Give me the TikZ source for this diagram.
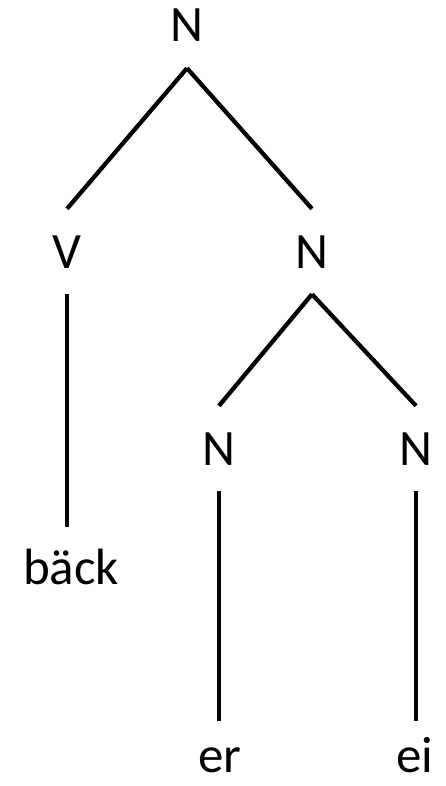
\documentclass[tikz,border=0pt]{standalone}
\usepackage{fontspec}
\setmainfont{Carlito}
\usepackage{tikz}
\tikzset{
	cat/.style={anchor=base, inner xsep=0pt, inner ysep=26pt, text height=33pt, text depth=0pt, font=\fontsize{51}{60}\selectfont},
	leaf/.style={cat, inner ysep=0pt},
	branch/.style={line width=1.5mm}
}

\begin{document}
\begin{tikzpicture}[x=1pt, y=-1pt]
			%%%%% START %%%%%
			\useasboundingbox (0, 0) rectangle (446, 786);
			
			\node[cat] (top) at (187, 42) {N};
			\node[cat] (v) at (67, 268) {V};
			\node[cat] (nr) at (312, 268) {N};
			\node[cat] (nl) at (219, 465) {N};
			\node[cat] (nrr) at (416, 465) {N};
			
			\node[leaf] (back) at (71, 584) {bäck};
			\node[leaf] (er) at (220, 772) {er};
			\node[leaf] (ei) at (415, 772) {ei};
			
			\draw[branch] (top.south) -- (v.north);
			\draw[branch] (top.south) -- (nr.north);
			\draw[branch, shorten >=24pt] (v.south) -- (back.north -| v.south);
			
			\draw[branch] (nr.south) -- (nl.north);
			\draw[branch] (nr.south) -- (nrr.north);
			\draw[branch, shorten >=18pt] (nl.south) -- (er.north -| nl.south);
			\draw[branch, shorten >=18pt] (nrr.south) -- (ei.north -| nrr.south);
			
			%%%%% END %%%%%
\end{tikzpicture}
\end{document}
